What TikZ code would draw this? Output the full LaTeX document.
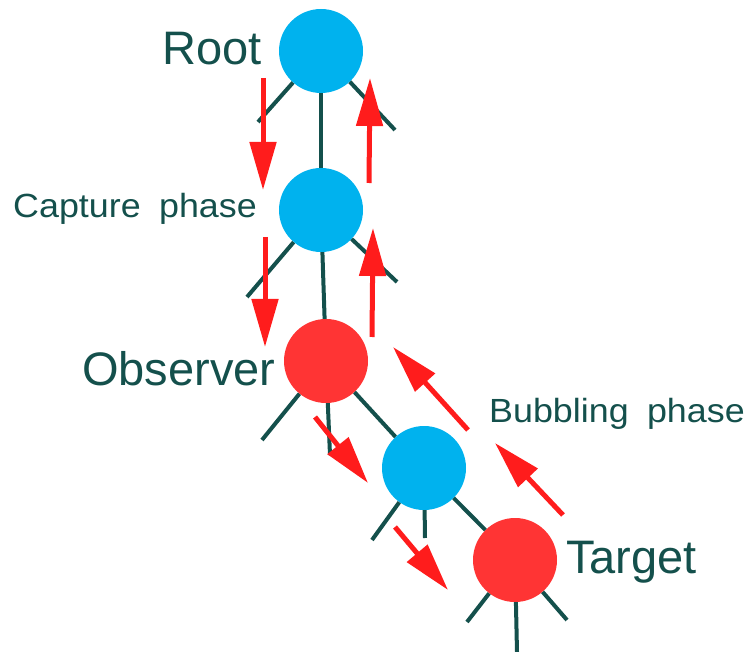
\documentclass[tikz,border=0pt]{standalone}
\usepackage{fontspec}
\setmainfont{Liberation Sans}
\newfontfamily\phasefont[FakeStretch=1.07]{Liberation Sans}
\usepackage{xcolor}
\usetikzlibrary{arrows.meta}

\definecolor{treeline}{RGB}{20,80,76}
\definecolor{nodeblue}{RGB}{0,178,238}
\definecolor{nodered}{RGB}{255,52,52}
\definecolor{flowred}{RGB}{255,28,28}

\begin{document}
\begin{tikzpicture}[
  x=1pt, y=-1pt,
  blue/.style={circle, fill=nodeblue, minimum size=84pt, inner sep=0pt},
  red/.style={circle, fill=nodered, minimum size=84pt, inner sep=0pt},
  branch/.style={draw=treeline, line width=4pt},
  flow/.style={draw=flowred, line width=5pt,
               -{Triangle[length=48pt,width=26pt]}},
  biglabel/.style={text=treeline, inner sep=0pt, anchor=base west,
                   font=\fontsize{47}{56}\selectfont},
  phaselabel/.style={text=treeline, inner sep=0pt, anchor=base west,
                     font=\phasefont\fontsize{33.5}{40}\selectfont}
]
\useasboundingbox (0,0) rectangle (747,652);

% tree nodes
\node[blue] (root)     at (321,51)  {};
\node[blue] (mid)      at (321,210) {};
\node[red]  (observer) at (326,361) {};
\node[blue] (inner)    at (424,468) {};
\node[red]  (target)   at (515,560) {};

% loose branch ends
\coordinate (rootL) at (258,122);
\coordinate (rootR) at (395,130);
\coordinate (midL)  at (247,297);
\coordinate (midR)  at (397,282);
\coordinate (obsL)  at (262,440);
\coordinate (obsC)  at (330,455);
\coordinate (innL)  at (372,540);
\coordinate (innC)  at (425,538);
\coordinate (tarL)  at (467,622);
\coordinate (tarC)  at (517,652);
\coordinate (tarR)  at (567,620);

% tree edges
\draw[branch] (root) -- (mid);
\draw[branch] (mid) -- (observer);
\draw[branch] (observer) -- (inner);
\draw[branch] (inner) -- (target);
\draw[branch] (root) -- (rootL);
\draw[branch] (root) -- (rootR);
\draw[branch] (mid) -- (midL);
\draw[branch] (mid) -- (midR);
\draw[branch] (observer) -- (obsL);
\draw[branch] (observer) -- (obsC);
\draw[branch] (inner) -- (innL);
\draw[branch] (inner) -- (innC);
\draw[branch] (target) -- (tarL);
\draw[branch] (target) -- (tarC);
\draw[branch] (target) -- (tarR);

% capture arrows
\coordinate (cap1a) at (263,78);  \coordinate (cap1b) at (263,190);
\coordinate (cap2a) at (265,237); \coordinate (cap2b) at (265,347);
\coordinate (cap3a) at (315,417); \coordinate (cap3b) at (368,483);
\coordinate (cap4a) at (395,527); \coordinate (cap4b) at (448,590);
\draw[flow] (cap1a) -- (cap1b);
\draw[flow] (cap2a) -- (cap2b);
\draw[flow] (cap3a) -- (cap3b);
\draw[flow] (cap4a) -- (cap4b);

% bubbling arrows
\coordinate (bub1a) at (369,183); \coordinate (bub1b) at (370,78);
\coordinate (bub2a) at (372,337); \coordinate (bub2b) at (373,228);
\coordinate (bub3a) at (468,430); \coordinate (bub3b) at (393,347);
\coordinate (bub4a) at (563,515); \coordinate (bub4b) at (495,443);
\draw[flow] (bub1a) -- (bub1b);
\draw[flow] (bub2a) -- (bub2b);
\draw[flow] (bub3a) -- (bub3b);
\draw[flow] (bub4a) -- (bub4b);

% labels
\node[biglabel] (rootlabel) at (162,65)  {Root};
\node[biglabel] (obslabel)  at (82,385)  {Observer};
\node[biglabel] (tarlabel)  at (566,573) {Target};
\node[phaselabel] (caplabel) at (13,218) {Capture\hspace{0.55em}phase};
\node[phaselabel] (bublabel) at (489,422) {Bubbling\hspace{0.55em}phase};
\end{tikzpicture}
\end{document}
